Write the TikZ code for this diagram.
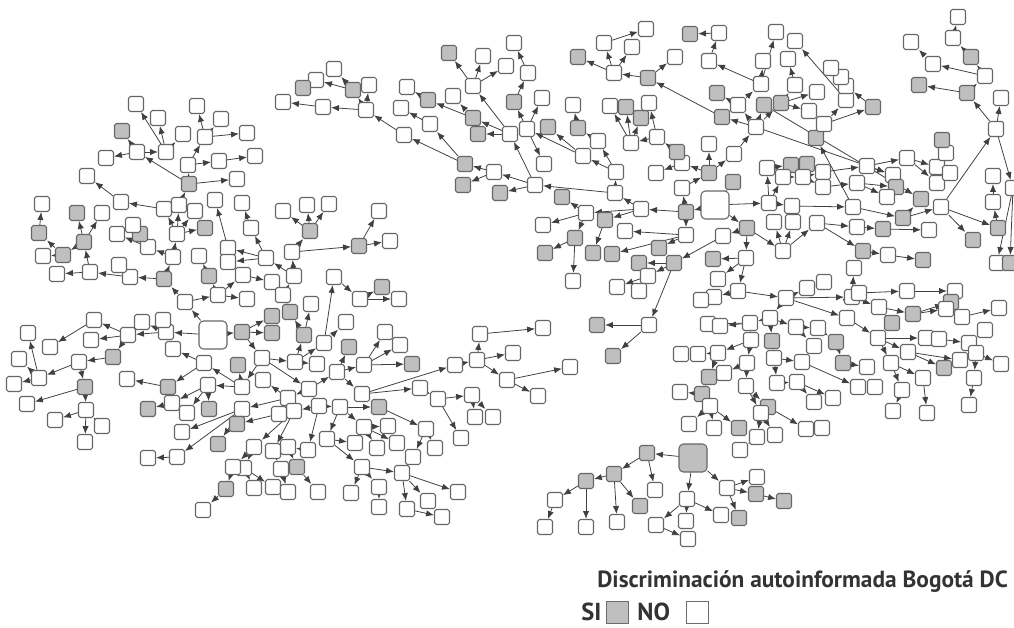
\documentclass[tikz,border=0pt]{standalone}
\usepackage{fontspec}
\newfontfamily\legendfont{PT Sans}
\usetikzlibrary{backgrounds,arrows.meta}

\tikzset{
  nw/.style={draw=gray!80!black, fill=white, rounded corners=1pt, minimum size=0.30cm, inner sep=0pt, line width=0.6pt},
  ng/.style={nw, fill=gray!50},
  hubw/.style={nw, minimum size=0.56cm, rounded corners=2.5pt},
  hubg/.style={hubw, fill=gray!50},
  edge/.style={draw=black!75, line width=0.45pt, -{Latex[length=4.5pt,width=3.6pt]}},
  legbox/.style={draw=gray!85!black, minimum size=0.44cm, inner sep=0pt, line width=0.4pt},
  legtext/.style={anchor=base west, inner sep=0pt, text=black!80}
}

% node x / node y / parent x / parent y / style
\def\leftnet{
242/332/213/335/ng, 272/316/242/332/ng, 272/333/242/332/ng,
185/302/213/335/nw, 218/295/185/302/nw, 247/299/218/295/nw,
166/332/213/335/nw, 163/320/166/332/nw, 142/322/166/332/nw, 128/335/166/332/nw,
94/320/128/335/nw, 91/340/128/335/nw, 50/347/94/320/nw, 113/357/128/335/ng,
79/362/113/357/nw, 39/378/79/362/nw, 28/333/39/378/nw, 19/359/39/378/nw, 14/384/39/378/nw,
85/387/79/362/ng, 27/404/85/387/nw, 86/410/85/387/nw, 55/420/86/410/nw, 102/426/86/410/nw, 85/442/86/410/nw,
262/358/242/332/nw, 242/387/262/358/nw, 238/365/242/387/ng,
295/362/262/358/nw, 304/335/295/362/ng, 317/364/295/362/nw, 324/343/295/362/nw, 346/322/324/343/nw,
208/385/242/387/nw, 172/403/208/385/nw, 148/409/172/403/ng, 187/413/208/385/nw, 209/409/208/385/ng,
204/363/242/387/nw, 168/387/204/363/ng, 127/379/168/387/nw, 173/349/204/363/nw,
309/389/262/358/nw, 288/398/309/389/nw, 263/380/288/398/nw, 242/409/288/398/nw,
319/406/309/389/nw, 294/411/319/406/nw, 279/414/294/411/nw, 237/424/279/414/ng,
182/432/242/409/nw, 218/444/242/409/ng, 177/457/242/409/nw, 148/458/177/457/nw,
337/372/309/389/nw, 349/347/337/372/ng, 364/365/337/372/nw, 385/332/364/365/nw, 400/345/364/365/nw, 412/364/364/365/ng,
362/394/337/372/nw, 420/388/362/394/nw, 438/399/420/388/nw, 472/395/438/399/nw, 475/417/472/395/nw, 493/417/472/395/nw, 461/438/438/399/nw,
455/365/362/394/nw, 477/360/455/365/nw, 480/334/477/360/nw, 543/328/480/334/nw,
513/353/477/360/nw, 507/380/477/360/nw, 570/367/507/380/nw, 538/396/507/380/nw,
340/407/319/406/nw, 379/407/340/407/ng, 426/429/379/407/nw, 413/457/426/429/nw, 435/448/426/429/nw,
327/439/340/407/nw, 355/443/327/439/nw, 364/427/340/407/nw, 388/426/364/427/nw, 377/448/364/427/nw, 397/443/364/427/nw,
362/467/327/439/nw, 351/493/362/467/nw, 379/487/362/467/nw, 379/507/379/487/nw,
402/473/362/467/nw, 407/509/402/473/nw, 428/501/402/473/nw, 458/492/402/473/nw, 442/517/407/509/nw,
308/450/319/406/nw, 288/447/308/450/nw, 297/467/288/447/ng, 318/492/297/467/nw,
254/447/294/411/nw, 273/451/294/411/nw, 244/468/254/447/nw, 233/467/254/447/nw, 226/489/233/467/ng, 203/510/226/489/nw,
254/488/244/468/nw, 273/487/244/468/nw, 281/469/273/451/nw, 288/492/281/469/nw,
164/279/185/302/ng, 173/257/164/279/nw, 130/277/164/279/nw, 90/272/130/277/nw, 119/265/130/277/nw, 57/274/90/272/nw,
84/242/90/272/ng, 77/213/84/242/ng, 102/213/84/242/nw, 63/255/84/242/ng, 43/256/63/255/nw, 39/233/63/255/ng, 42/204/39/233/nw,
148/247/173/257/nw, 117/234/148/247/nw, 140/234/148/247/ng, 133/225/148/247/nw,
177/234/173/257/nw, 164/209/177/234/nw, 121/202/164/209/nw, 87/176/121/202/nw, 195/211/177/234/nw, 205/228/177/234/ng,
179/205/177/234/nw, 189/184/179/205/ng, 137/152/189/184/nw, 122/131/137/152/ng, 106/158/137/152/nw,
166/152/137/152/nw, 136/104/166/152/nw, 158/118/166/152/nw, 183/134/166/152/nw,
188/165/189/184/nw, 205/137/188/165/nw, 197/106/205/137/nw, 221/119/205/137/nw, 247/133/205/137/nw,
219/161/188/165/nw, 255/156/219/161/nw, 237/179/189/184/nw,
209/276/218/295/ng, 199/256/209/276/nw, 243/275/218/295/nw, 272/282/243/275/nw,
290/312/304/335/ng, 311/304/304/335/nw, 283/295/290/312/nw, 294/276/283/295/nw, 292/252/294/276/nw, 266/258/294/276/nw,
334/277/324/343/nw, 360/299/334/277/nw, 382/287/360/299/ng, 399/299/360/299/nw,
310/231/292/252/ng, 283/211/310/231/nw, 307/205/310/231/nw, 329/204/310/231/nw,
359/246/292/252/ng, 379/211/359/246/nw, 390/241/359/246/nw,
228/248/266/258/nw, 215/200/228/248/nw, 228/262/266/258/nw, 251/228/266/258/nw, 242/203/251/228/nw}

\def\rightnet{
686/212/715/205/ng, 682/188/686/212/nw, 686/235/686/212/nw, 641/209/686/212/nw,
615/193/641/209/nw, 605/220/641/209/ng, 593/253/605/220/ng,
586/213/641/209/nw, 562/197/586/213/ng, 543/225/586/213/nw, 575/238/586/213/ng, 545/253/575/238/ng, 573/281/575/238/nw,
535/185/615/193/nw, 510/134/535/185/nw, 473/86/510/134/nw, 449/53/473/86/ng, 483/56/473/86/nw, 506/66/473/86/nw,
478/134/510/134/ng, 473/118/510/134/ng, 428/100/473/118/ng, 407/87/428/100/nw, 453/96/473/118/nw,
494/172/535/185/nw, 465/164/494/172/ng, 430/124/465/164/nw, 401/108/430/124/nw, 404/135/465/164/nw,
463/185/494/172/ng, 500/193/535/185/ng,
366/110/404/135/nw, 323/107/366/110/nw, 283/102/323/107/nw, 353/90/366/110/ng, 334/69/353/90/nw, 316/80/353/90/nw,
303/88/316/80/ng, 369/85/366/110/nw,
616/172/615/193/nw, 583/156/616/172/nw, 548/127/583/156/ng, 598/141/616/172/nw, 578/128/598/141/ng, 573/105/578/128/nw,
527/129/583/156/nw, 514/102/527/129/ng, 528/73/514/102/nw, 514/43/528/73/nw, 542/98/527/129/nw, 544/164/527/129/nw,
625/231/686/235/nw, 612/254/686/235/ng, 659/248/686/235/ng,
747/228/715/205/ng, 723/236/747/228/nw, 674/263/723/236/ng, 639/263/674/263/ng, 648/276/674/263/nw,
617/287/648/276/nw, 639/291/648/276/nw, 649/325/674/263/nw, 597/325/649/325/ng, 613/356/649/325/ng,
746/258/747/228/nw, 713/259/746/258/ng, 718/279/746/258/nw, 738/291/746/258/nw, 714/297/738/291/nw, 701/300/714/297/nw,
783/251/747/228/nw, 774/222/783/251/nw, 793/222/783/251/nw, 817/223/783/251/nw, 857/227/817/223/nw,
883/229/857/227/ng, 929/230/883/229/nw, 863/251/817/223/ng, 888/255/863/251/nw, 923/260/888/255/ng,
769/203/715/205/nw, 792/206/769/203/nw, 853/207/792/206/nw, 903/218/853/207/ng, 941/207/903/218/nw, 921/199/903/218/ng,
998/228/941/207/ng, 993/202/998/228/nw, 993/176/993/202/nw, 973/240/941/207/ng,
996/129/941/207/nw, 1001/98/996/129/nw, 967/93/996/129/ng, 985/76/967/93/nw, 919/85/967/93/ng,
971/57/985/76/ng, 953/38/971/57/nw, 958/17/953/38/nw, 933/64/985/76/nw, 911/42/933/64/nw,
1013/188/996/129/nw, 997/263/1013/188/nw, 1010/263/1013/188/ng,
709/173/682/188/ng, 682/163/709/173/nw, 677/152/682/163/ng, 657/137/677/152/nw, 631/143/657/137/nw,
610/106/631/143/nw, 626/107/631/143/ng, 641/118/631/143/ng, 649/103/657/137/nw, 656/173/682/163/nw,
709/144/709/173/nw, 734/154/709/173/nw, 733/182/715/205/ng,
756/127/734/154/nw, 738/105/756/127/nw, 717/93/738/105/ng, 761/84/738/105/nw, 709/61/761/84/nw,
719/33/709/61/nw, 690/34/719/33/ng, 776/32/761/84/nw, 763/61/761/84/nw,
764/105/756/127/ng, 781/103/756/127/ng, 795/85/781/103/nw, 788/59/795/85/nw, 817/92/781/103/nw, 809/111/781/103/nw,
722/117/756/127/ng, 648/78/722/117/ng, 614/73/648/78/nw, 604/43/614/73/nw, 632/47/614/73/nw, 646/29/604/43/nw,
578/57/614/73/ng, 675/57/648/78/nw,
816/138/853/207/ng, 824/124/816/138/nw, 846/100/824/124/nw, 873/107/824/124/ng, 846/86/873/107/nw,
841/77/846/86/nw, 831/68/841/77/nw, 795/41/846/100/nw,
767/168/769/203/nw, 791/165/767/168/ng, 807/164/791/165/ng, 783/177/769/203/nw, 803/177/783/177/nw,
823/172/803/177/nw, 823/187/803/177/nw, 857/183/823/187/nw,
867/166/823/172/nw, 907/158/867/166/nw, 893/175/867/166/nw, 937/167/907/158/nw, 937/183/907/158/nw,
950/173/937/167/nw, 946/153/937/167/nw, 942/140/946/153/ng, 896/187/857/183/ng, 887/197/857/183/nw,
786/298/738/291/nw, 807/288/786/298/nw, 824/282/807/288/nw, 852/297/786/298/nw, 854/268/852/297/nw,
859/293/852/297/nw, 907/291/859/293/nw, 955/291/907/291/nw,
879/307/852/297/nw, 913/314/879/307/ng, 951/302/913/314/ng, 946/309/913/314/nw, 962/317/946/309/nw, 999/308/962/317/nw,
892/323/879/307/ng,
770/318/786/298/nw, 750/323/770/318/nw, 708/324/750/323/nw, 720/326/750/323/nw, 751/340/750/323/nw,
772/341/770/318/ng, 796/327/770/318/nw, 818/328/796/327/nw, 814/346/796/327/nw, 836/342/818/328/ng,
847/318/786/298/nw, 878/338/847/318/nw, 926/338/878/338/nw, 939/339/926/338/nw, 969/343/939/339/nw,
985/330/969/343/nw, 976/353/969/343/nw, 1001/364/976/353/nw,
908/352/878/338/nw, 960/360/908/352/nw, 944/368/908/352/ng, 843/363/836/342/ng, 867/367/843/363/nw,
891/363/878/338/nw, 902/390/891/363/nw, 893/411/902/390/nw, 923/378/891/363/nw, 927/413/923/378/nw,
974/378/976/353/nw, 969/405/974/378/nw,
718/353/751/340/nw, 698/354/718/353/nw, 681/354/698/354/nw, 747/363/751/340/nw, 724/373/747/363/nw, 709/377/718/353/ng,
774/358/772/341/nw, 802/362/774/358/nw, 858/387/802/362/nw, 875/387/858/387/nw,
746/386/747/363/nw, 768/407/746/386/ng, 761/413/746/386/nw, 777/383/774/358/nw, 797/382/777/383/nw,
814/402/797/382/nw, 833/398/797/382/nw,
702/394/709/377/ng, 680/392/702/394/nw, 710/406/702/394/nw, 689/424/710/406/nw, 714/428/710/406/nw, 739/428/710/406/ng,
806/429/768/407/nw, 822/428/806/429/nw, 757/437/761/413/nw, 775/435/761/413/nw, 740/450/757/437/nw}

\def\bottomnet{
647/453/693/458/ng, 614/474/647/453/ng, 586/481/614/474/ng, 555/500/586/481/nw, 545/527/555/500/nw,
586/527/586/481/nw, 617/522/614/474/nw, 640/506/614/474/ng, 655/490/647/453/nw,
687/499/693/458/nw, 656/525/687/499/nw, 686/521/687/499/nw, 721/515/687/499/nw, 688/539/656/525/nw,
727/488/693/458/nw, 757/477/727/488/nw, 756/494/727/488/ng, 784/501/756/494/ng, 739/518/727/488/ng}

\begin{document}
\begin{tikzpicture}[x=0.02cm, y=-0.02cm]
  \useasboundingbox (0,0) rectangle (1014,628);

  % Hubs
  \node[hubw] (n213-335) at (213,335) {};
  \node[hubw] (n715-205) at (715,205) {};
  \node[hubg] (n693-458) at (693,458) {};

  % Nodes
  \foreach \x/\y/\px/\py/\s in \leftnet {\node[\s] (n\x-\y) at (\x,\y) {};}
  \foreach \x/\y/\px/\py/\s in \rightnet {\node[\s] (n\x-\y) at (\x,\y) {};}
  \foreach \x/\y/\px/\py/\s in \bottomnet {\node[\s] (n\x-\y) at (\x,\y) {};}

  % Links
  \begin{pgfonlayer}{background}
    \foreach \x/\y/\px/\py/\s in \leftnet {\draw[edge] (n\px-\py) -- (n\x-\y);}
    \foreach \x/\y/\px/\py/\s in \rightnet {\draw[edge] (n\px-\py) -- (n\x-\y);}
    \foreach \x/\y/\px/\py/\s in \bottomnet {\draw[edge] (n\px-\py) -- (n\x-\y);}
    \draw[edge] (n756-127) -- (n893-175);
    \draw[edge] (n764-105) -- (n921-199);
  \end{pgfonlayer}

  % Legend
  \node[legtext, font=\legendfont\bfseries\fontsize{13.3}{15}\selectfont] (title) at (597,587) {Discriminación autoinformada Bogotá DC};
  \node[legtext, font=\legendfont\bfseries\fontsize{14}{16}\selectfont] (si) at (581,620) {SI};
  \node[legbox, fill=gray!50] (sibox) at (617,612) {};
  \node[legtext, font=\legendfont\bfseries\fontsize{14}{16}\selectfont] (no) at (637,620) {NO};
  \node[legbox, fill=white] (nobox) at (697,612) {};
\end{tikzpicture}
\end{document}
